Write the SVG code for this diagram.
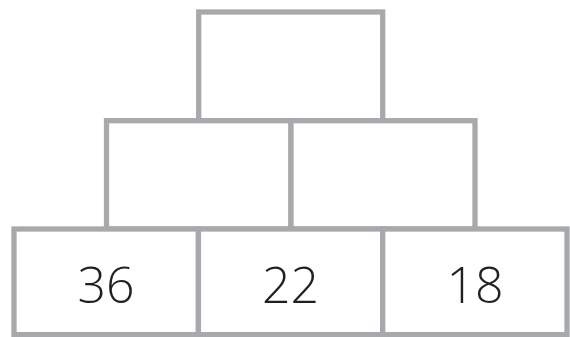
<svg xmlns="http://www.w3.org/2000/svg" width="570" height="337" viewBox="0 0 570 337">
<style>
.box{fill:#ffffff;stroke:#a7a9ac;stroke-width:5.3}
.num{font-family:"Open Sans","Liberation Sans",sans-serif;font-weight:300;font-size:50px;fill:#231f20;text-anchor:middle}
</style>
<rect width="570" height="337" fill="#ffffff"/>
<g id="top"><rect class="box" x="198.7" y="12" width="184" height="108.7"/></g>
<g id="mid-left"><rect class="box" x="106.5" y="120.7" width="184.5" height="108.3"/></g>
<g id="mid-right"><rect class="box" x="291" y="120.7" width="184" height="108.3"/></g>
<g id="bottom-left"><rect class="box" x="14" y="229" width="184.4" height="105.6"/><text class="num" x="106" y="302.5">36</text></g>
<g id="bottom-mid"><rect class="box" x="198.4" y="229" width="184.3" height="105.6"/><text class="num" x="290.5" y="302.5">22</text></g>
<g id="bottom-right"><rect class="box" x="382.7" y="229" width="184.3" height="105.6"/><text class="num" x="475" y="302.5">18</text></g>
<g id="connectors"></g>
</svg>
